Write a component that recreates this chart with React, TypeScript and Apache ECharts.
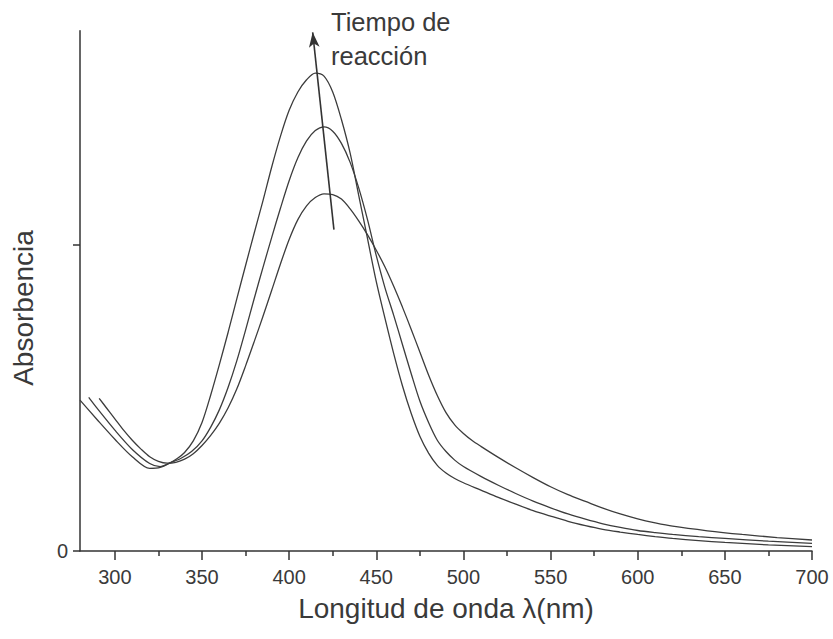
import React, { useEffect, useRef } from "react";
import * as echarts from "echarts";

const xMajorTicks = [300, 350, 400, 450, 500, 550, 600, 650, 700];
const xMinorTicks = [325, 375, 425, 475, 525, 575, 625, 675];
const yTicks = [0, 1];
const yLabels = [0];

const wavelengthA = [280, 290, 300, 310, 320, 326, 332, 336, 340, 345, 350, 355, 360, 365, 370, 375, 380, 385, 390, 395, 400, 405, 410, 415, 420, 425, 430, 435, 440, 445, 450, 455, 460, 465, 470, 475, 480, 485, 490, 495, 500, 510, 520, 530, 540, 550, 560, 570, 580, 590, 600, 610, 620, 635, 650, 675, 700];
const absorbanceA = [0.493, 0.428, 0.365, 0.308, 0.270, 0.273, 0.289, 0.303, 0.322, 0.360, 0.420, 0.510, 0.610, 0.715, 0.825, 0.933, 1.040, 1.145, 1.255, 1.355, 1.440, 1.500, 1.540, 1.562, 1.552, 1.500, 1.410, 1.300, 1.160, 1.020, 0.880, 0.760, 0.645, 0.540, 0.450, 0.375, 0.320, 0.280, 0.255, 0.237, 0.223, 0.199, 0.175, 0.153, 0.132, 0.114, 0.097, 0.083, 0.071, 0.062, 0.054, 0.047, 0.041, 0.034, 0.028, 0.020, 0.014];

const wavelengthB = [285, 290, 300, 310, 320, 326, 332, 338, 344, 350, 355, 360, 365, 370, 375, 380, 385, 390, 395, 400, 405, 410, 415, 420, 425, 430, 435, 440, 445, 450, 455, 460, 465, 470, 475, 480, 485, 490, 495, 500, 510, 520, 530, 540, 550, 560, 570, 580, 590, 600, 610, 620, 635, 650, 675, 700];
const absorbanceB = [0.502, 0.465, 0.395, 0.332, 0.286, 0.276, 0.289, 0.303, 0.325, 0.360, 0.405, 0.462, 0.535, 0.622, 0.722, 0.826, 0.927, 1.025, 1.120, 1.210, 1.285, 1.340, 1.374, 1.386, 1.372, 1.332, 1.270, 1.185, 1.082, 0.965, 0.860, 0.770, 0.675, 0.580, 0.490, 0.420, 0.362, 0.325, 0.297, 0.276, 0.244, 0.215, 0.188, 0.163, 0.141, 0.121, 0.104, 0.089, 0.077, 0.067, 0.060, 0.054, 0.047, 0.041, 0.032, 0.025];

const wavelengthC = [291, 295, 300, 305, 310, 315, 320, 325, 330, 335, 340, 345, 350, 355, 360, 365, 370, 375, 380, 385, 390, 395, 400, 405, 410, 415, 420, 425, 430, 435, 440, 445, 450, 455, 460, 465, 470, 475, 480, 485, 490, 495, 500, 505, 510, 520, 530, 540, 550, 560, 570, 580, 590, 600, 610, 620, 640, 660, 680, 700];
const absorbanceC = [0.499, 0.469, 0.432, 0.395, 0.362, 0.333, 0.308, 0.293, 0.287, 0.290, 0.300, 0.318, 0.345, 0.378, 0.418, 0.468, 0.530, 0.605, 0.685, 0.767, 0.852, 0.938, 1.018, 1.083, 1.128, 1.155, 1.167, 1.165, 1.150, 1.118, 1.078, 1.033, 0.983, 0.928, 0.865, 0.797, 0.725, 0.650, 0.575, 0.508, 0.452, 0.412, 0.384, 0.361, 0.342, 0.306, 0.272, 0.240, 0.210, 0.184, 0.162, 0.140, 0.121, 0.105, 0.092, 0.081, 0.066, 0.054, 0.044, 0.036];

const arrowFrom = [425.7, 1.05];
const arrowTo = [413.5, 1.695];

const xTitle = "Longitud de onda \u03bb(nm)";
const yTitle = "Absorbencia";
const annotation = "Tiempo de\nreacción";

const ink = "#333333";
const curveInk = "#3c3c3c";
const font = "'Liberation Sans', Arial, Helvetica, sans-serif";

function pairs(xs: number[], ys: number[]) {
  return xs.map((x, i) => [x, ys[i]]);
}

export default function App() {
  const ref = useRef<HTMLDivElement>(null);
  useEffect(() => {
    if (!ref.current) return;
    const chart = echarts.init(ref.current, null, { renderer: "svg" });
    const lineSeries = (name: string, data: number[][], extra: any = {}) => ({
      name,
      type: "line",
      data,
      smooth: 0.3,
      showSymbol: false,
      lineStyle: { color: curveInk, width: 1.3 },
      itemStyle: { color: curveInk },
      ...extra,
    });
    chart.setOption({
      animation: false,
      backgroundColor: "#ffffff",
      grid: { left: 80, right: 21, top: 30.8, bottom: 88 },
      xAxis: [
        {
          type: "value",
          min: 280,
          max: 700,
          position: "bottom",
          axisLine: { show: true, lineStyle: { color: ink, width: 1.5 } },
          axisTick: {
            show: true,
            customValues: xMajorTicks,
            length: 9,
            lineStyle: { color: ink, width: 1.5 },
          },
          axisLabel: {
            show: true,
            customValues: xMajorTicks,
            margin: 16,
            fontSize: 20,
            color: "#3a3a3a",
            fontFamily: font,
          },
          splitLine: { show: false },
          name: xTitle,
          nameLocation: "middle",
          nameGap: 43,
          nameTextStyle: { fontSize: 28, color: "#3a3a3a", fontFamily: font },
        },
        {
          type: "value",
          min: 280,
          max: 700,
          position: "bottom",
          axisLine: { show: false },
          axisTick: {
            show: true,
            customValues: xMinorTicks,
            length: 5,
            lineStyle: { color: ink, width: 1.5 },
          },
          axisLabel: { show: false },
          splitLine: { show: false },
        },
      ],
      yAxis: {
        type: "value",
        min: 0,
        max: 1.7,
        axisLine: { show: true, lineStyle: { color: ink, width: 1.5 } },
        axisTick: {
          show: true,
          customValues: yTicks,
          length: 7,
          lineStyle: { color: ink, width: 1.5 },
        },
        axisLabel: {
          show: true,
          customValues: yLabels,
          margin: 12,
          fontSize: 20,
          color: "#3a3a3a",
          fontFamily: font,
        },
        splitLine: { show: false },
      },
      graphic: [
        {
          type: "text",
          x: 23,
          y: 308,
          rotation: Math.PI / 2,
          style: {
            text: yTitle,
            fontSize: 28,
            fontFamily: font,
            fill: "#3a3a3a",
            align: "center",
            verticalAlign: "middle",
          },
        },
        {
          type: "text",
          x: 331,
          y: 5,
          style: {
            text: annotation,
            fontSize: 25.5,
            lineHeight: 34,
            fontFamily: font,
            fill: "#3a3a3a",
            align: "left",
            verticalAlign: "top",
          },
        },
      ],
      series: [
        lineSeries("A", pairs(wavelengthA, absorbanceA), {
          markLine: {
            silent: true,
            symbol: ["none", "arrow"],
            symbolSize: [8, 15],
            label: { show: false },
            lineStyle: { color: ink, width: 1.6, type: "solid" },
            data: [[{ coord: arrowFrom }, { coord: arrowTo }]],
          },
        }),
        lineSeries("B", pairs(wavelengthB, absorbanceB)),
        lineSeries("C", pairs(wavelengthC, absorbanceC)),
      ],
    });
    return () => chart.dispose();
  }, []);
  return (
    <div
      ref={ref}
      style={{ position: "fixed", left: 0, top: 0, width: 833, height: 639 }}
    />
  );
}
